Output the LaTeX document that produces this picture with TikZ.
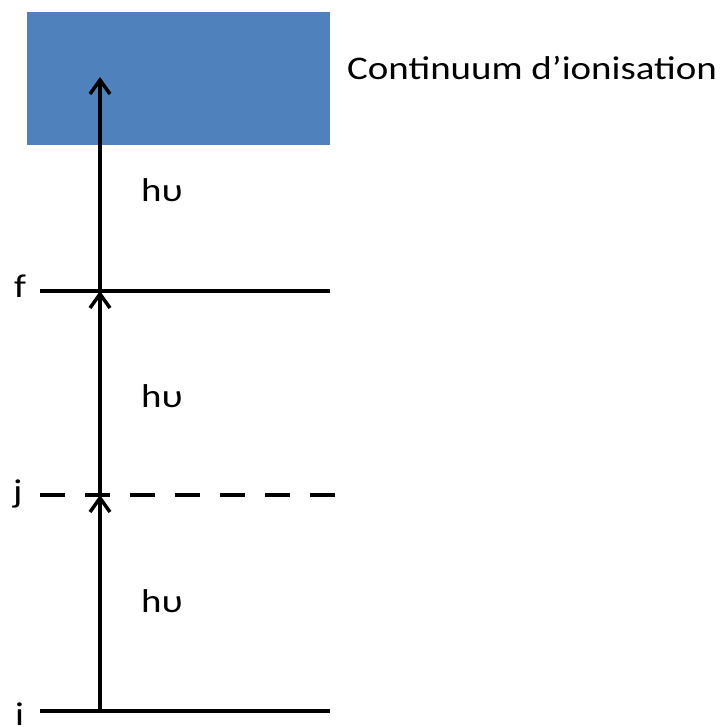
\documentclass[tikz,border=0pt]{standalone}
\usepackage{fontspec}
\usepackage{graphicx}
\setmainfont{Carlito}
\usetikzlibrary{arrows.meta}
\definecolor{contblue}{HTML}{4F81BD}
\newcommand{\wide}[1]{\scalebox{1.18}[1]{#1}}
\begin{document}
\begin{tikzpicture}[x=1pt,y=-1pt,
  level/.style={line width=4pt},
  dashlevel/.style={line width=4pt,dash pattern=on 25pt off 20pt},
  photon/.style={line width=3.5pt,-{Straight Barb[length=14pt,width=20pt,line width=3.5pt]}},
  lbl/.style={inner sep=0pt,anchor=base west,font=\fontsize{33}{38}\selectfont}]
\useasboundingbox (0,0) rectangle (719,727);
\fill[contblue] (27,12) rectangle (330,145);
\node[lbl] (cont) at (347,80) {\wide{Continuum d’ionisation}};
% levels
\coordinate (iL) at (40,711); \coordinate (iR) at (330,711);
\coordinate (jL) at (40,495); \coordinate (jR) at (335,495);
\coordinate (fL) at (40,291); \coordinate (fR) at (330,291);
\draw[level] (iL) -- (iR);
\draw[dashlevel] (jL) -- (jR);
\draw[level] (fL) -- (fR);
\node[lbl] (li) at (15,725) {\wide{i}};
\node[lbl] (lj) at (13,502) {\wide{j}};
\node[lbl] (lf) at (14,297) {\wide{f}};
% arrows
\coordinate (ai) at (100,711);
\coordinate (aj) at (100,495);
\coordinate (af) at (100,291);
\coordinate (at) at (100,77);
\draw[photon] (ai) -- (aj);
\draw[photon] (aj) -- (af);
\draw[photon] (af) -- (at);
\node[lbl] (h1) at (141,202) {\wide{hυ}};
\node[lbl] (h2) at (141,407) {\wide{hυ}};
\node[lbl] (h3) at (141,612) {\wide{hυ}};
\end{tikzpicture}
\end{document}
